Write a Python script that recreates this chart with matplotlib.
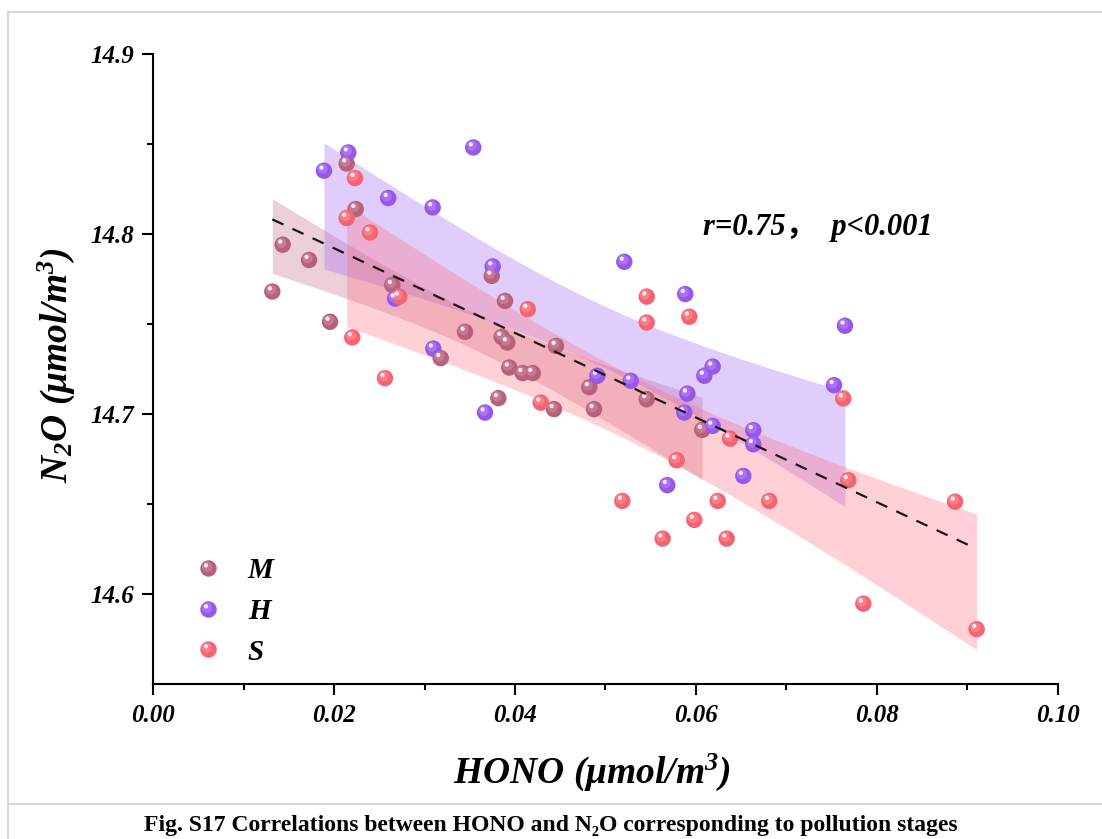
import numpy as np
import matplotlib
matplotlib.use("Agg")
import matplotlib.pyplot as plt
from matplotlib.path import Path
from matplotlib.markers import MarkerStyle
from matplotlib.lines import Line2D
from matplotlib.legend_handler import HandlerTuple
import matplotlib.colors as mcolors

# ---------------- data ----------------
m_x = [0.02138, 0.02238, 0.01431, 0.01722, 0.01316, 0.02643, 0.03742, 0.03889,
       0.01954, 0.03447, 0.03852, 0.03914, 0.04453, 0.03936, 0.04085, 0.04195,
       0.03178, 0.03815, 0.04821, 0.05456, 0.04431, 0.04873, 0.06070]
m_y = [14.8392, 14.8139, 14.7941, 14.7856, 14.7681, 14.7717, 14.7768, 14.7629,
       14.7513, 14.7457, 14.7429, 14.7398, 14.7379, 14.7259, 14.7228, 14.7228,
       14.7311, 14.7089, 14.7150, 14.7083, 14.7028, 14.7028, 14.6913]

h_x = [0.02156, 0.01887, 0.02598, 0.03089, 0.03538, 0.03753, 0.02673, 0.03096,
       0.03668, 0.05208, 0.05882, 0.07648, 0.04910, 0.05279, 0.06185, 0.06093,
       0.05905, 0.07527, 0.05871, 0.06185, 0.06634, 0.06634, 0.06524, 0.05683]
h_y = [14.8453, 14.8352, 14.8200, 14.8148, 14.8481, 14.7820, 14.7642, 14.7364,
       14.7009, 14.7846, 14.7667, 14.7491, 14.7213, 14.7185, 14.7264, 14.7213,
       14.7114, 14.7161, 14.7009, 14.6935, 14.6911, 14.6833, 14.6657, 14.6606]

s_x = [0.02230, 0.02138, 0.02396, 0.02720, 0.02200, 0.02562, 0.04140, 0.05456,
       0.05456, 0.05927, 0.07629, 0.04284, 0.06377, 0.05787, 0.07685, 0.05186,
       0.06241, 0.06811, 0.05982, 0.05632, 0.06340, 0.08865, 0.07851, 0.09104]
s_y = [14.8311, 14.8089, 14.8009, 14.7653, 14.7426, 14.7200, 14.7583, 14.7653,
       14.7509, 14.7541, 14.7087, 14.7064, 14.6864, 14.6744, 14.6633, 14.6518,
       14.6518, 14.6518, 14.6413, 14.6309, 14.6309, 14.6514, 14.5948, 14.5806]

group_names = ["M", "H", "S"]
group_colors = ["#BF6580", "#9C5CF2", "#FF6878"]
t_crit = {21: 2.080, 22: 2.074}   # two-sided 95 % Student t

x_ticks = [0.00, 0.02, 0.04, 0.06, 0.08, 0.10]
y_ticks = [14.6, 14.7, 14.8, 14.9]
annotation = "r=0.75\uff0c  p<0.001"
caption = "Fig. S17 Correlations between HONO and N\u2082O corresponding to pollution stages"

# ---------------- style ----------------
plt.rcParams["font.family"] = ["Liberation Serif", "DejaVu Serif"]
plt.rcParams["mathtext.fontset"] = "custom"
plt.rcParams["mathtext.rm"] = "Liberation Serif:bold:italic"
plt.rcParams["mathtext.it"] = "Liberation Serif:bold:italic"
plt.rcParams["mathtext.bf"] = "Liberation Serif:bold:italic"

fig = plt.figure(figsize=(11.02, 8.39), dpi=100)
ax = fig.add_axes([0.1391, 0.18439, 0.8207, 0.75125])


def circ_path(cx, cy, r):
    c = Path.circle((cx, cy), r)
    verts = np.vstack([c.vertices, [[-1, -1], [1, 1]]])
    codes = np.concatenate([c.codes, [Path.MOVETO, Path.MOVETO]])
    return Path(verts, codes)


base_m = MarkerStyle(circ_path(0, 0, 1.0))
mid_m = MarkerStyle(circ_path(-0.18, 0.22, 0.62))
hl_m = MarkerStyle(circ_path(-0.30, 0.38, 0.26))
S = 140


def lighten(c, f):
    r, g, b = mcolors.to_rgb(c)
    return (r + (1 - r) * f, g + (1 - g) * f, b + (1 - b) * f)


def darken(c, f):
    r, g, b = mcolors.to_rgb(c)
    return (r * (1 - f), g * (1 - f), b * (1 - f))


groups = [(m_x, m_y), (h_x, h_y), (s_x, s_y)]

# confidence bands (95 %) per group
for (gx, gy), col in zip(groups, group_colors):
    gx = np.asarray(gx); gy = np.asarray(gy)
    n = len(gx)
    b, a = np.polyfit(gx, gy, 1)
    resid = gy - (a + b * gx)
    s_err = np.sqrt(np.sum(resid ** 2) / (n - 2))
    sxx = np.sum((gx - gx.mean()) ** 2)
    xx = np.linspace(gx.min(), gx.max(), 200)
    yy = a + b * xx
    half = t_crit[n - 2] * s_err * np.sqrt(1 / n + (xx - gx.mean()) ** 2 / sxx)
    ax.fill_between(xx, yy - half, yy + half, color=col, alpha=0.3,
                    linewidth=0, zorder=1)

# points as shaded spheres
for (gx, gy), col in zip(groups, group_colors):
    ax.scatter(gx, gy, s=S, marker=base_m, color=darken(col, 0.04),
               edgecolors="none", zorder=3)
    ax.scatter(gx, gy, s=S, marker=mid_m, color=lighten(col, 0.18),
               edgecolors="none", alpha=0.8, zorder=3.1)
    ax.scatter(gx, gy, s=S, marker=hl_m, color="white",
               edgecolors="none", alpha=0.85, zorder=3.2)

# overall linear fit
all_x = np.concatenate([m_x, h_x, s_x])
all_y = np.concatenate([m_y, h_y, s_y])
bb, aa = np.polyfit(all_x, all_y, 1)
fx = np.array([all_x.min(), all_x.max()])
ax.plot(fx, aa + bb * fx, color="#1e1418", lw=1.6, ls=(0, (5.5, 4.5)),
        zorder=4)

# axes
ax.set_xlim(0, 0.1)
ax.set_ylim(14.55, 14.9)
ax.set_xticks(x_ticks)
ax.set_xticklabels([f"{v:.2f}" for v in x_ticks])
ax.set_yticks(y_ticks)
ax.set_yticklabels([f"{v:.1f}" for v in y_ticks])
ax.set_xticks(np.arange(0.01, 0.1, 0.02), minor=True)
ax.set_yticks([14.65, 14.75, 14.85], minor=True)
for sp in ["top", "right"]:
    ax.spines[sp].set_visible(False)
for sp in ["left", "bottom"]:
    ax.spines[sp].set_linewidth(1.5)
ax.tick_params(which="major", direction="out", length=8, width=1.5,
               labelsize=18, pad=6)
ax.tick_params(which="minor", direction="out", length=4.5, width=1.5)
for lab in ax.get_xticklabels() + ax.get_yticklabels():
    lab.set_fontweight("bold")
    lab.set_fontstyle("italic")

ax.set_xlabel("HONO (\u03bcmol/m$^{3}$)", fontsize=27, fontweight="bold",
              fontstyle="italic", va="center")
ax.xaxis.set_label_coords(0.485, -0.139)
ax.set_ylabel("N$_{2}$O (\u03bcmol/m$^{3}$)", fontsize=27, fontweight="bold",
              fontstyle="italic", va="center")
ax.yaxis.set_label_coords(-0.107, 0.507)

ax.text(0.6078, 0.7128, annotation, transform=ax.transAxes, fontsize=22,
        fontweight="bold", fontstyle="italic", va="baseline", ha="left",
        family=["Liberation Serif", "Noto Sans CJK SC"])

# legend
handles = []
for col in group_colors:
    ms = np.sqrt(S)
    h1 = Line2D([], [], ls="none", marker=base_m, markersize=ms,
                markerfacecolor=darken(col, 0.04), markeredgewidth=0)
    h2 = Line2D([], [], ls="none", marker=mid_m, markersize=ms,
                markerfacecolor=lighten(col, 0.18), markeredgewidth=0, alpha=0.8)
    h3 = Line2D([], [], ls="none", marker=hl_m, markersize=ms,
                markerfacecolor="white", markeredgewidth=0, alpha=0.85)
    handles.append((h1, h2, h3))
leg = ax.legend(handles, group_names, handler_map={tuple: HandlerTuple(ndivide=1, pad=0)},
                loc="upper left", bbox_to_anchor=(0.0448, 0.2015), borderaxespad=0,
                borderpad=0, frameon=False, handlelength=1.0, handletextpad=0.85,
                labelspacing=0.47, prop={"size": 21, "weight": "bold", "style": "italic"})

# frame lines and caption
grey = "#D9D9D9"
W, H = 1102, 839
fig.add_artist(Line2D([8 / W, 8 / W], [0, 1 - 12 / H], color=grey, lw=1.5,
                      transform=fig.transFigure))
fig.add_artist(Line2D([8 / W, 1], [1 - 12 / H, 1 - 12 / H], color=grey, lw=1.5,
                      transform=fig.transFigure))
fig.add_artist(Line2D([8 / W, 1], [1 - 804 / H, 1 - 804 / H], color=grey, lw=1.5,
                      transform=fig.transFigure))
fig.text(551 / W, 1 - 826 / H, caption, ha="center", va="center", fontsize=17,
         fontweight="bold")

fig.savefig("out.png", dpi=100)
